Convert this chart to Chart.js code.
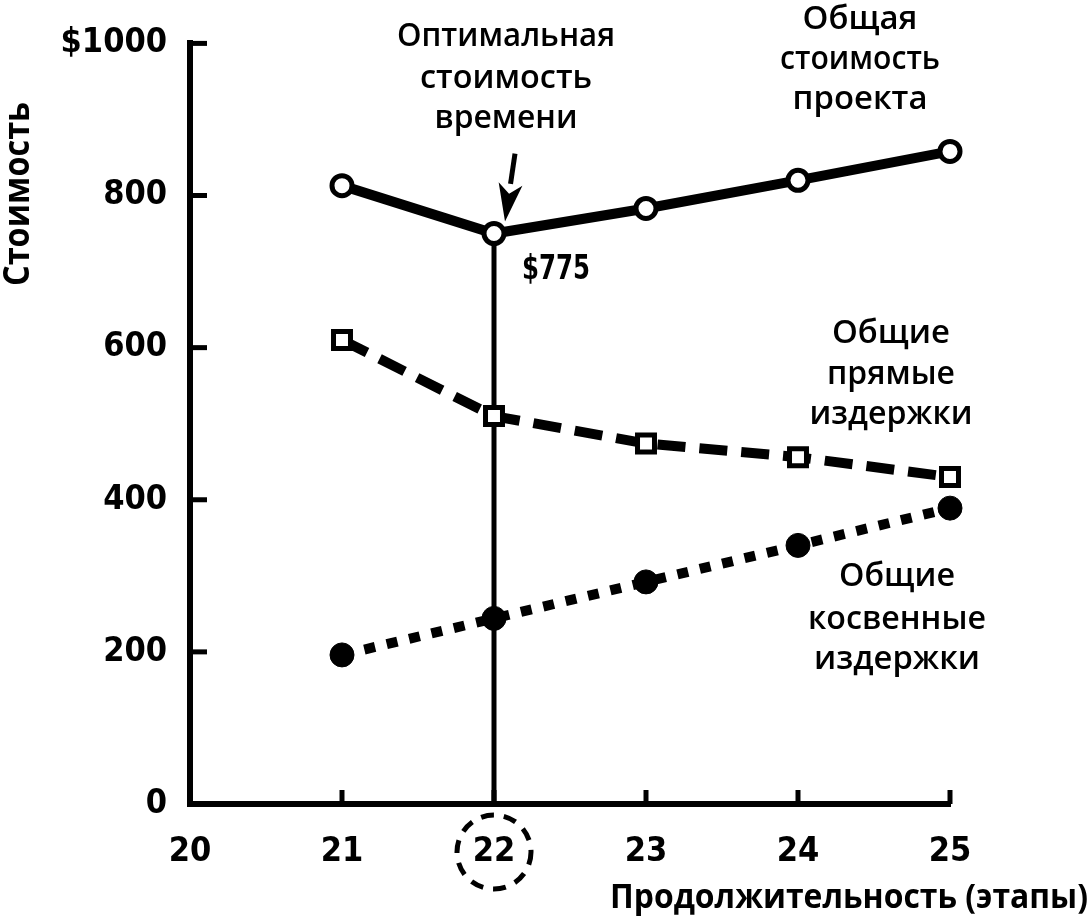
<!DOCTYPE html>
<html><head><meta charset="utf-8">
<script src="https://cdn.jsdelivr.net/npm/chart.js@4"></script>
<style>html,body{margin:0;padding:0;background:#fff;overflow:hidden}</style>
</head><body>
<canvas id="c" width="1091" height="920" style="display:block;width:1091px;height:920px"></canvas>
<script>
// ---- data ----
const stages = [21, 22, 23, 24, 25];
const totalCost = [813, 750, 783, 820, 858];
const directCost = [610, 510, 474, 456, 430];
const indirectCost = [196, 244, 292, 340, 389];
const optimalStage = 22;
const optimalValue = 750;
const optimalLabel = '$775';
const xTicks = [20, 21, 22, 23, 24, 25];
const yTicks = [0, 200, 400, 600, 800, 1000];
const yTickLabels = ['0', '200', '400', '600', '800', '$1000'];
const labelOptimal = ['Оптимальная', 'стоимость', 'времени'];
const labelTotal = ['Общая', 'стоимость', 'проекта'];
const labelDirect = ['Общие', 'прямые', 'издержки'];
const labelIndirect = ['Общие', 'косвенные', 'издержки'];
const xTitle = 'Продолжительность (этапы)';
const yTitle = 'Стоимость';

const toPts = (xs, ys) => xs.map((x, i) => ({x: x, y: ys[i]}));
const NUM_FONT = "'Liberation Sans Narrow', 'DejaVu Sans Condensed', sans-serif";
const TXT_FONT = "'Open Sans', 'DejaVu Sans', sans-serif";

function fitText(ctx, text, cx, baseY, targetW) {
  const w = ctx.measureText(text).width;
  ctx.save();
  ctx.translate(cx, baseY);
  if (targetW) ctx.scale(targetW / w, 1);
  ctx.textAlign = 'center';
  ctx.textBaseline = 'alphabetic';
  ctx.fillText(text, 0, 0);
  ctx.restore();
}

const decor = {
  id: 'decor',
  afterDraw(chart) {
    const ctx = chart.ctx;
    const xs = chart.scales.x, ys = chart.scales.y;
    const left = chart.chartArea.left, bottom = chart.chartArea.bottom;
    ctx.save();
    ctx.strokeStyle = '#000';
    ctx.fillStyle = '#000';
    // inward tick marks
    ctx.lineWidth = 5;
    ctx.lineCap = 'butt';
    xTicks.slice(1).forEach(v => {
      const px = xs.getPixelForValue(v);
      ctx.beginPath(); ctx.moveTo(px, bottom); ctx.lineTo(px, bottom - 14); ctx.stroke();
    });
    yTicks.slice(1).forEach(v => {
      const py = ys.getPixelForValue(v);
      ctx.beginPath(); ctx.moveTo(left, py); ctx.lineTo(left + 17, py); ctx.stroke();
    });
    ctx.fillRect(left - 3, bottom - 3, 6, 6);

    const ox = xs.getPixelForValue(optimalStage);
    const oy = ys.getPixelForValue(optimalValue);

    // arrow
    const tx = ox + 11, ty = oy - 12;
    const sx = ox + 21, sy = oy - 80;
    const ang = Math.atan2(ty - sy, tx - sx);
    const hl = 38, hw = 12;
    const bx = tx - hl * Math.cos(ang), by = ty - hl * Math.sin(ang);
    ctx.lineWidth = 5;
    ctx.beginPath(); ctx.moveTo(sx, sy); ctx.lineTo(bx, by); ctx.stroke();
    ctx.beginPath();
    ctx.moveTo(tx, ty);
    ctx.lineTo(bx + hw * Math.sin(ang), by - hw * Math.cos(ang));
    ctx.lineTo(bx + 10 * Math.cos(ang), by + 10 * Math.sin(ang));
    ctx.lineTo(bx - hw * Math.sin(ang), by + hw * Math.cos(ang));
    ctx.closePath(); ctx.fill();

    // dashed circle around optimal tick label
    ctx.setLineDash([13, 10]);
    ctx.lineWidth = 5;
    ctx.beginPath(); ctx.arc(ox, 852, 37, 0, Math.PI * 2); ctx.stroke();
    ctx.setLineDash([]);

    // $775 label
    ctx.font = "bold 34px " + NUM_FONT;
    fitText(ctx, optimalLabel, ox + 62, oy + 45, 68);

    // annotation texts
    ctx.font = "600 33px " + TXT_FONT;
    const block = (lines, cx, bases, widths) => lines.forEach((t, i) => fitText(ctx, t, cx, bases[i], widths[i]));
    block(labelOptimal, ox + 12, [46, 88, 128], [218, 172, 143]);
    block(labelTotal, 860, [29, 69, 109], [115, 160, 135]);
    block(labelDirect, 891, [343, 384, 424], [118, 128, 163]);
    block(labelIndirect, 897, [586, 629, 669], [116, 178, 166]);

    // axis titles
    ctx.font = "bold 34px " + TXT_FONT;
    fitText(ctx, xTitle, 849, 908, 478);
    ctx.save();
    ctx.translate(29, 194);
    ctx.rotate(-Math.PI / 2);
    ctx.font = "bold 36px " + TXT_FONT;
    fitText(ctx, yTitle, 0, 0, 184);
    ctx.restore();

    ctx.restore();
  }
};

new Chart(document.getElementById('c'), {
  type: 'line',
  data: {
    datasets: [
      {
        label: 'Общая стоимость проекта',
        data: toPts(stages, totalCost),
        borderColor: '#000', borderWidth: 10,
        pointStyle: 'circle', pointRadius: 10, pointBorderWidth: 5,
        pointBackgroundColor: '#fff', pointBorderColor: '#000',
        tension: 0, clip: false
      },
      {
        label: 'Общие прямые издержки',
        data: toPts(stages, directCost),
        borderColor: '#000', borderWidth: 10, borderDash: [28, 14],
        pointStyle: 'rect', pointRadius: 12, pointBorderWidth: 5,
        pointBackgroundColor: '#fff', pointBorderColor: '#000',
        tension: 0, clip: false
      },
      {
        label: 'Общие косвенные издержки',
        data: toPts(stages, indirectCost),
        borderColor: '#000', borderWidth: 10, borderDash: [11, 12],
        pointStyle: 'circle', pointRadius: 12, pointBorderWidth: 1,
        pointBackgroundColor: '#000', pointBorderColor: '#000',
        tension: 0, clip: false
      },
      {
        label: 'optimal',
        data: [{x: optimalStage, y: 0}, {x: optimalStage, y: optimalValue}],
        borderColor: '#000', borderWidth: 5, pointRadius: 0, clip: false
      }
    ]
  },
  options: {
    responsive: false,
    animation: false,
    devicePixelRatio: 1,
    layout: {padding: {left: 0, top: 43, right: 141, bottom: 0}},
    plugins: {legend: {display: false}, tooltip: {enabled: false}},
    scales: {
      x: {
        type: 'linear', min: 20, max: 25,
        afterBuildTicks: s => { s.ticks = xTicks.map(v => ({value: v})); },
        afterFit: s => { s.height = 116; },
        grid: {display: false, drawTicks: false},
        border: {display: true, color: '#000', width: 6},
        ticks: {
          color: '#000', padding: 28, maxRotation: 0, autoSkip: false,
          font: {family: NUM_FONT, size: 34, weight: 'bold'},
          callback: v => String(v)
        }
      },
      y: {
        type: 'linear', min: 0, max: 1000,
        afterBuildTicks: s => { s.ticks = yTicks.map(v => ({value: v})); },
        afterFit: s => { s.width = 190; },
        grid: {display: false, drawTicks: false},
        border: {display: true, color: '#000', width: 6},
        ticks: {
          color: '#000', padding: 23,
          font: {family: NUM_FONT, size: 34, weight: 'bold'},
          callback: v => yTickLabels[yTicks.indexOf(v)]
        }
      }
    }
  },
  plugins: [decor]
});
</script>
</body></html>
